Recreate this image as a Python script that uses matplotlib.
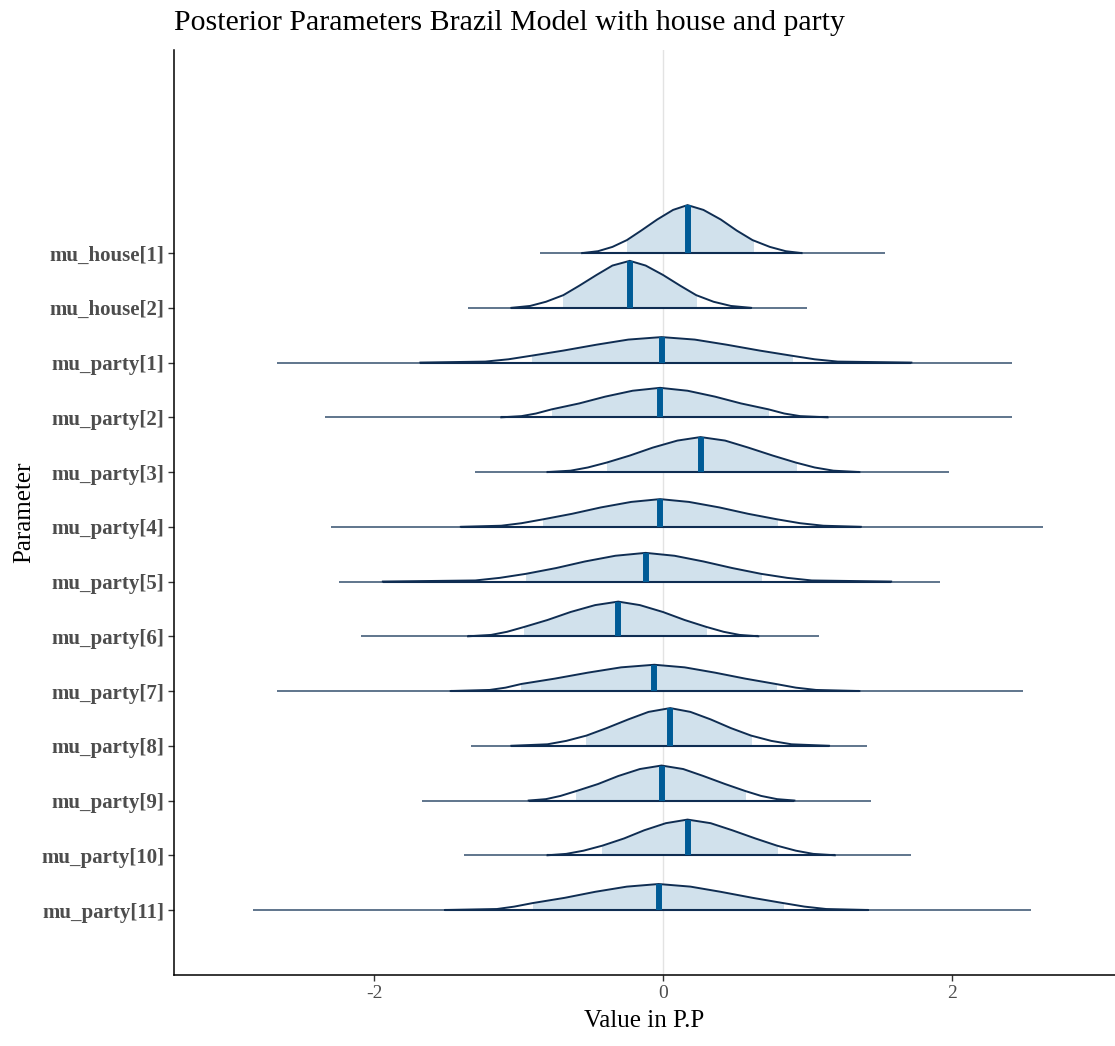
import matplotlib
matplotlib.use("Agg")
import matplotlib.pyplot as plt
from matplotlib.patches import Rectangle
import numpy as np

plt.rcParams['font.family'] = ['Liberation Serif', 'DejaVu Serif']

# ---------------- data ----------------
params = ["mu_house[1]", "mu_house[2]", "mu_party[1]", "mu_party[2]", "mu_party[3]",
          "mu_party[4]", "mu_party[5]", "mu_party[6]", "mu_party[7]", "mu_party[8]",
          "mu_party[9]", "mu_party[10]", "mu_party[11]"]

medians = [0.17, -0.23, -0.01, -0.02, 0.26, -0.02, -0.12, -0.31, -0.06, 0.05, -0.01, 0.17, -0.03]
inner_lo = [-0.25, -0.69, -0.91, -0.77, -0.39, -0.83, -0.95, -0.96, -0.98, -0.53, -0.60, -0.42, -0.90]
inner_hi = [0.62, 0.23, 0.89, 0.73, 0.92, 0.79, 0.68, 0.30, 0.78, 0.61, 0.57, 0.79, 0.83]
range_min = [-0.85, -1.35, -2.67, -2.34, -1.30, -2.30, -2.24, -2.09, -2.67, -1.33, -1.67, -1.38, -2.84]
range_max = [1.54, 1.00, 2.42, 2.42, 1.98, 2.63, 1.92, 1.08, 2.49, 1.41, 1.44, 1.72, 2.55]

# density outlines (x positions and heights, heights in pixel-like units)
dens_x = [
    [-0.56, -0.45, -0.35, -0.25, -0.15, -0.04, 0.07, 0.17, 0.28, 0.40, 0.51, 0.62, 0.74, 0.85, 0.96],
    [-1.05, -0.92, -0.81, -0.69, -0.58, -0.46, -0.35, -0.23, -0.12, 0.00, 0.12, 0.23, 0.35, 0.47, 0.61],
    [-1.68, -1.23, -1.07, -0.91, -0.69, -0.46, -0.24, -0.01, 0.22, 0.44, 0.67, 0.89, 1.05, 1.21, 1.72],
    [-1.12, -0.98, -0.88, -0.77, -0.58, -0.40, -0.21, -0.02, 0.17, 0.36, 0.54, 0.73, 0.84, 0.95, 1.14],
    [-0.80, -0.64, -0.52, -0.39, -0.23, -0.07, 0.10, 0.26, 0.43, 0.59, 0.76, 0.92, 1.05, 1.18, 1.36],
    [-1.40, -1.12, -0.98, -0.83, -0.63, -0.43, -0.22, -0.02, 0.18, 0.39, 0.59, 0.79, 0.95, 1.11, 1.37],
    [-1.94, -1.30, -1.13, -0.95, -0.74, -0.54, -0.33, -0.12, 0.08, 0.28, 0.48, 0.68, 0.86, 1.03, 1.58],
    [-1.35, -1.19, -1.08, -0.96, -0.80, -0.64, -0.47, -0.31, -0.16, 0.00, 0.15, 0.30, 0.42, 0.53, 0.66],
    [-1.47, -1.20, -1.09, -0.98, -0.75, -0.52, -0.29, -0.06, 0.15, 0.36, 0.57, 0.78, 0.92, 1.06, 1.36],
    [-1.05, -0.80, -0.67, -0.53, -0.39, -0.24, -0.10, 0.05, 0.19, 0.33, 0.47, 0.61, 0.75, 0.89, 1.15],
    [-0.93, -0.81, -0.71, -0.60, -0.45, -0.31, -0.16, -0.01, 0.14, 0.28, 0.43, 0.57, 0.68, 0.79, 0.91],
    [-0.80, -0.67, -0.55, -0.42, -0.27, -0.13, 0.02, 0.17, 0.33, 0.48, 0.64, 0.79, 0.92, 1.04, 1.19],
    [-1.51, -1.15, -1.03, -0.90, -0.68, -0.47, -0.25, -0.03, 0.19, 0.40, 0.62, 0.83, 0.98, 1.13, 1.42],
]
dens_h = [
    [0, 1.9, 6.2, 13.0, 22.6, 33.6, 43.2, 48.0, 43.2, 33.6, 22.6, 13.0, 6.2, 1.9, 0],
    [0, 1.9, 6.1, 12.7, 22.1, 32.9, 42.3, 47.0, 42.3, 32.9, 22.1, 12.7, 6.1, 1.9, 0],
    [0, 1.0, 3.3, 6.9, 12.0, 17.9, 23.0, 25.5, 23.0, 17.9, 12.0, 6.9, 3.3, 1.0, 0],
    [0, 1.2, 3.8, 8.0, 13.9, 20.7, 26.6, 29.5, 26.6, 20.7, 13.9, 8.0, 3.8, 1.2, 0],
    [0, 1.4, 4.6, 9.5, 16.5, 24.5, 31.5, 35.0, 31.5, 24.5, 16.5, 9.5, 4.6, 1.4, 0],
    [0, 1.1, 3.6, 7.5, 13.0, 19.4, 24.9, 27.7, 24.9, 19.4, 13.0, 7.5, 3.6, 1.1, 0],
    [0, 1.1, 3.7, 7.7, 13.5, 20.1, 25.8, 28.7, 25.8, 20.1, 13.5, 7.7, 3.7, 1.1, 0],
    [0, 1.4, 4.5, 9.4, 16.3, 24.3, 31.2, 34.7, 31.2, 24.3, 16.3, 9.4, 4.5, 1.4, 0],
    [0, 1.1, 3.4, 7.1, 12.4, 18.4, 23.7, 26.3, 23.7, 18.4, 12.4, 7.1, 3.4, 1.1, 0],
    [0, 1.5, 4.9, 10.2, 17.7, 26.4, 33.9, 37.7, 33.9, 26.4, 17.7, 10.2, 4.9, 1.5, 0],
    [0, 1.4, 4.6, 9.5, 16.5, 24.5, 31.5, 35.0, 31.5, 24.5, 16.5, 9.5, 4.6, 1.4, 0],
    [0, 1.4, 4.6, 9.6, 16.8, 25.0, 32.1, 35.7, 32.1, 25.0, 16.8, 9.6, 4.6, 1.4, 0],
    [0, 1.0, 3.4, 7.0, 12.2, 18.2, 23.4, 26.0, 23.4, 18.2, 12.2, 7.0, 3.4, 1.0, 0],
]
x_ticks = [-2, 0, 2]

# ---------------- style ----------------
FILL = "#d1e1ec"
OUTLINE = "#0f2d52"
RANGE_LINE = "#34506e"
MEDIAN = "#005b96"
DENS_SCALE = 1 / 54.75

fig = plt.figure(figsize=(11.15, 10.46), dpi=100)
ax = fig.add_axes([174 / 1115, 71 / 1046, 1 - 174 / 1115, (975 - 50) / 1046])

n = len(params)
ypos = np.arange(n, 0, -1)  # top row highest

ax.axvline(0, color="#e3e3e3", lw=1.0, zorder=0)

for i in range(n):
    y0 = ypos[i]
    xs = np.array(dens_x[i])
    hs = np.array(dens_h[i]) * DENS_SCALE
    # full range
    ax.plot([range_min[i], range_max[i]], [y0, y0], color=RANGE_LINE, lw=1.1,
            solid_capstyle="butt", zorder=2)
    # inner shaded area
    poly = ax.fill_between(xs, y0, y0 + hs, color=FILL, lw=0, zorder=1)
    clip = Rectangle((inner_lo[i], y0 - 0.1), inner_hi[i] - inner_lo[i], 2.0,
                     transform=ax.transData)
    poly.set_clip_path(clip)
    # outline of outer interval density
    ax.plot(xs, y0 + hs, color=OUTLINE, lw=1.4, zorder=3, solid_joinstyle="miter")
    ax.plot([xs[0], xs[-1]], [y0, y0], color=OUTLINE, lw=1.5, zorder=3,
            solid_capstyle="butt")
    # median
    hm = hs[7]
    ax.plot([medians[i], medians[i]], [y0, y0 + hm], color=MEDIAN, lw=4.3,
            solid_capstyle="butt", zorder=4)

ax.set_xlim(-3.386, 3.130)
ax.set_ylim(-0.187, 16.71)
ax.set_yticks(ypos)
ax.set_yticklabels(params, fontweight="bold", fontsize=15, color="#4d4d4d")
ax.set_xticks(x_ticks)
ax.set_xticklabels([str(t) for t in x_ticks], fontsize=14, color="#4d4d4d")
ax.tick_params(axis="both", length=4, width=1.0, color="#333333", pad=3)

for s in ["top", "right"]:
    ax.spines[s].set_visible(False)
for s in ["left", "bottom"]:
    ax.spines[s].set_linewidth(1.1)
    ax.spines[s].set_color("black")

ax.set_xlabel("Value in P.P", fontsize=18, labelpad=6)
ax.set_ylabel("Parameter", fontsize=18, labelpad=4)
fig.text(174 / 1115, 1 - 23 / 1046, "Posterior Parameters Brazil Model with house and party",
         fontsize=21.5, ha="left", va="center")

fig.savefig("out.png", dpi=100)
